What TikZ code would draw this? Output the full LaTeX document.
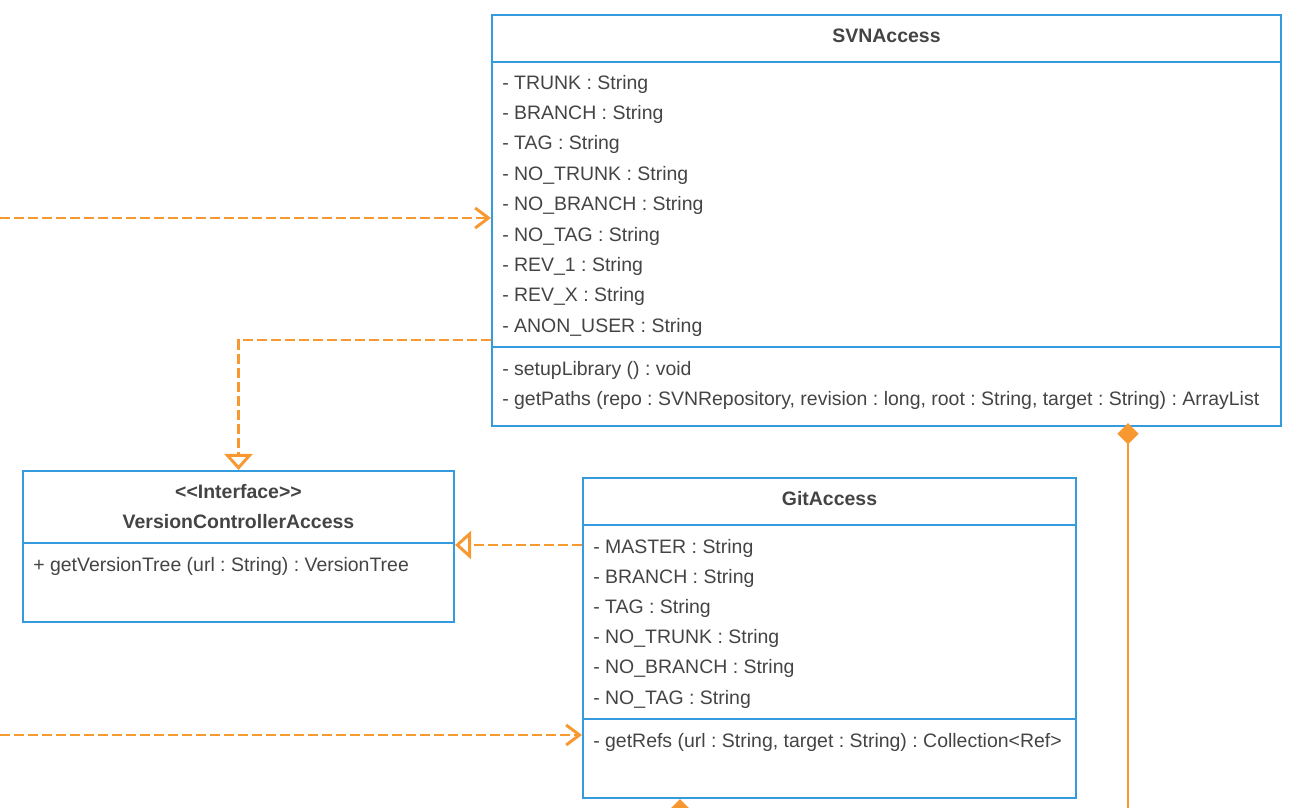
\documentclass[tikz,border=0pt]{standalone}
\usepackage{fontspec}
\setmainfont{Liberation Sans}
\usetikzlibrary{arrows.meta,fit}
\frenchspacing

\definecolor{umlblue}{RGB}{52,155,222}
\definecolor{umlorange}{RGB}{247,152,48}
\definecolor{umltext}{RGB}{68,68,68}

\tikzset{
  classbox/.style={draw=umlblue, line width=1.6pt, inner sep=0pt},
  classline/.style={draw=umlblue, line width=1.6pt},
  member/.style={anchor=base west, inner sep=0pt, text=umltext,
    font=\fontsize{14.6}{17}\selectfont},
  classname/.style={anchor=base, inner sep=0pt, text=umltext,
    font=\fontsize{14.6}{17}\selectfont\bfseries},
  depend/.style={umlorange, line width=2.2pt, dash pattern=on 7.5pt off 3pt,
    -{Straight Barb[length=10pt,width=15pt]}},
  realize/.style={umlorange, line width=2.2pt, dash pattern=on 7.5pt off 3pt,
    -{Triangle[open,length=12pt,width=21pt,fill=white]}},
  compose/.style={umlorange, line width=2.2pt,
    {Diamond[length=16pt,width=16pt]}-},
}

\begin{document}
\begin{tikzpicture}[x=0.75pt,y=-0.75pt]

    % --- Frame (pixel units, y downwards) ---
    \useasboundingbox (0,0) rectangle (1295,807);
    \clip (0,0) rectangle (1295,807);

    % --- Class boxes ---
    \node[classbox, fit={(492,15) (1281,426)}] (svn) {};
    \node[classbox, fit={(23,471) (454,622)}] (vca) {};
    \node[classbox, fit={(583,478) (1076,798)}] (git) {};

    % compartment separators
    \draw[classline] (svn.west |- 0,62) -- (svn.east |- 0,62);
    \draw[classline] (svn.west |- 0,347) -- (svn.east |- 0,347);
    \draw[classline] (vca.west |- 0,543) -- (vca.east |- 0,543);
    \draw[classline] (git.west |- 0,525) -- (git.east |- 0,525);
    \draw[classline] (git.west |- 0,719) -- (git.east |- 0,719);

    % --- SVNAccess ---
    \node[classname] (svntitle) at (svn.north |- 0,42) {SVNAccess};
    \foreach \t [count=\i] in {TRUNK, BRANCH, TAG, NO\_TRUNK, NO\_BRANCH,
        NO\_TAG, REV\_1, REV\_X, ANON\_USER}
      \node[member] (svnattr\i) at (502,{89+(\i-1)*30.4}) {- \t\ : String};
    \node[member] (svnop1) at (502,375) {- setupLibrary () : void};
    \node[member] (svnop2) at (502,405) {- getPaths (repo : SVNRepository, revision : long, root : String, target : String) : ArrayList};

    % --- VersionControllerAccess ---
    \node[classname] (vcastereo) at (vca.north |- 0,498) {<\kern0pt<Interface>\kern0pt>};
    \node[classname] (vcatitle) at (vca.north |- 0,528) {VersionControllerAccess};
    \node[member] (vcaop1) at (33,571) {+ getVersionTree (url : String) : VersionTree};

    % --- GitAccess ---
    \node[classname] (gittitle) at (git.north |- 0,505) {GitAccess};
    \foreach \t [count=\i] in {MASTER, BRANCH, TAG, NO\_TRUNK, NO\_BRANCH, NO\_TAG}
      \node[member] (gitattr\i) at (593,{553+(\i-1)*30.2}) {- \t\ : String};
    \node[member] (gitop1) at (593,747) {- getRefs (url : String, target : String) : Collection<Ref>};

    % --- Connectors ---
    \coordinate (inA) at (0,218);
    \coordinate (inB) at (0,735);
    \coordinate (downA) at (1128,815);
    \coordinate (downB) at (680,830);

    \draw[depend] (inA) -- (inA -| svn.west);
    \draw[depend] (inB) -- (inB -| git.west);
    \draw[realize] (svn.west |- 0,340) -| (vca.north);
    \draw[realize] (git.west |- 0,545) -- (vca.east |- 0,545);
    \draw[compose] ([yshift=3pt]svn.south -| downA) -- (downA);
    \draw[compose] (git.south -| downB) -- (downB);

\end{tikzpicture}
\end{document}
